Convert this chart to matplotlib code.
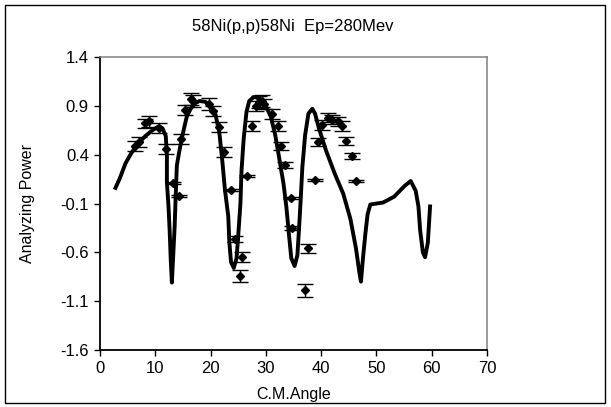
import numpy as np
import matplotlib.pyplot as plt
from matplotlib.patches import Rectangle

# measured analyzing power (C.M. angle, Ay, error)
ang_exp = [6.4, 7.0, 8.2, 8.8, 10.7, 11.9, 13.2, 14.2, 14.7, 15.4, 16.5, 16.8,
           19.8, 20.5, 21.5, 22.4, 23.7, 24.4, 25.6, 25.4, 26.5, 27.5, 28.3,
           28.8, 29.3, 29.6, 31.1, 32.2, 32.8, 33.5, 34.5, 34.8, 37.7, 37.1,
           38.8, 39.4, 40.2, 41.2, 42.0, 43.0, 43.8, 44.5, 45.5, 46.3]
ay_exp = [0.49, 0.53, 0.72, 0.74, 0.67, 0.46, 0.11, -0.02, 0.56, 0.86, 0.97, 0.95,
          0.92, 0.85, 0.68, 0.43, 0.04, -0.46, -0.65, -0.84, 0.18, 0.69, 0.90,
          0.94, 0.95, 0.92, 0.82, 0.69, 0.49, 0.29, -0.04, -0.35, -0.56, -0.99,
          0.14, 0.53, 0.70, 0.78, 0.76, 0.74, 0.69, 0.54, 0.39, 0.13]
err_exp = [0.05, 0.05, 0.05, 0.06, 0.05, 0.05, 0.01, 0.01, 0.05, 0.05, 0.06, 0.06,
           0.06, 0.05, 0.05, 0.05, 0.01, 0.03, 0.05, 0.06, 0.01, 0.05, 0.05,
           0.06, 0.06, 0.05, 0.05, 0.05, 0.04, 0.03, 0.01, 0.02, 0.05, 0.07,
           0.01, 0.04, 0.05, 0.05, 0.05, 0.05, 0.05, 0.04, 0.03, 0.01]

# calculated curve
ang_calc = [2.8, 3.6, 4.6, 5.7, 7.0, 8.2, 9.5, 10.6, 11.3, 11.9, 12.1, 12.1, 12.4,
            12.6, 12.8, 13.0, 13.2, 13.5, 13.7, 13.9, 14.3, 14.7, 15.2, 15.7,
            16.4, 17.3, 18.0, 19.1, 20.1, 20.9, 21.6, 22.1, 22.6, 23.2, 23.4,
            23.7, 24.2, 24.7, 25.0, 25.4, 25.6, 26.0, 26.5, 27.0, 27.8, 28.8,
            29.8, 30.9, 31.7, 32.4, 33.2, 33.7, 34.2, 34.6, 35.2, 35.7, 36.0,
            36.3, 36.6, 37.1, 37.7, 38.4, 38.9, 39.6, 40.9, 42.5, 44.0, 45.3,
            46.3, 46.9, 47.2, 47.6, 48.0, 48.4, 48.9, 51.2, 53.2, 55.1, 56.2,
            57.1, 57.6, 57.9, 58.4, 58.8, 59.3, 59.7]
ay_calc = [0.06, 0.16, 0.31, 0.42, 0.52, 0.59, 0.65, 0.69, 0.67, 0.59, 0.39, 0.12,
           -0.14, -0.38, -0.68, -0.91, -0.68, -0.34, -0.01, 0.29, 0.42, 0.54,
           0.67, 0.79, 0.87, 0.93, 0.95, 0.94, 0.89, 0.81, 0.62, 0.35, 0.04,
           -0.23, -0.50, -0.70, -0.76, -0.66, -0.43, -0.10, 0.24, 0.57, 0.84,
           0.95, 0.99, 0.98, 0.92, 0.79, 0.60, 0.37, 0.10, -0.13, -0.43, -0.66,
           -0.74, -0.63, -0.36, -0.06, 0.27, 0.60, 0.82, 0.87, 0.82, 0.67, 0.44,
           0.20, 0.00, -0.26, -0.56, -0.80, -0.90, -0.64, -0.41, -0.21, -0.11,
           -0.09, -0.03, 0.08, 0.13, 0.03, -0.13, -0.37, -0.60, -0.65, -0.50,
           -0.13]

plt.rcParams['font.family'] = ['Liberation Sans', 'DejaVu Sans']

fig = plt.figure(figsize=(6.11, 4.07), dpi=100)
ax = fig.add_axes([100 / 611, 1 - 350 / 407, 387 / 611, 293 / 407])

ax.plot(ang_calc, ay_calc, color='black', lw=2.8, solid_joinstyle='round')
ax.errorbar(ang_exp, ay_exp, yerr=err_exp, fmt='D', ms=4, color='black',
            ecolor='black', elinewidth=1, capsize=5.5, capthick=1)

ax.set_xlim(0, 70)
ax.set_ylim(-1.6, 1.4)
ax.set_xticks(np.arange(0, 71, 10))
ax.set_yticks(np.arange(-1.6, 1.41, 0.5))
ax.set_yticklabels(['-1.6', '-1.1', '-0.6', '-0.1', '0.4', '0.9', '1.4'])
ax.tick_params(direction='out', length=4, width=1, labelsize=12, pad=4)

for s in ['top', 'right']:
    ax.spines[s].set_color('#808080')
    ax.spines[s].set_linewidth(1.1)
for s in ['left', 'bottom']:
    ax.spines[s].set_color('black')
    ax.spines[s].set_linewidth(1.3)

fig.text(293 / 611, 1 - 26 / 407, '58Ni(p,p)58Ni  Ep=280Mev', ha='center',
         va='center', fontsize=12)
ax.set_xlabel('C.M.Angle', fontsize=11.5, labelpad=8)
ax.set_ylabel('Analyzing Power', fontsize=11.5, labelpad=18,
              family=['Liberation Sans Narrow', 'Liberation Sans'])

# chart area border
fig.patches.append(Rectangle((5 / 611, 4 / 407), 600 / 611, 398 / 407,
                             transform=fig.transFigure, fill=False,
                             edgecolor='black', lw=1))

fig.savefig('out.png', dpi=100)
